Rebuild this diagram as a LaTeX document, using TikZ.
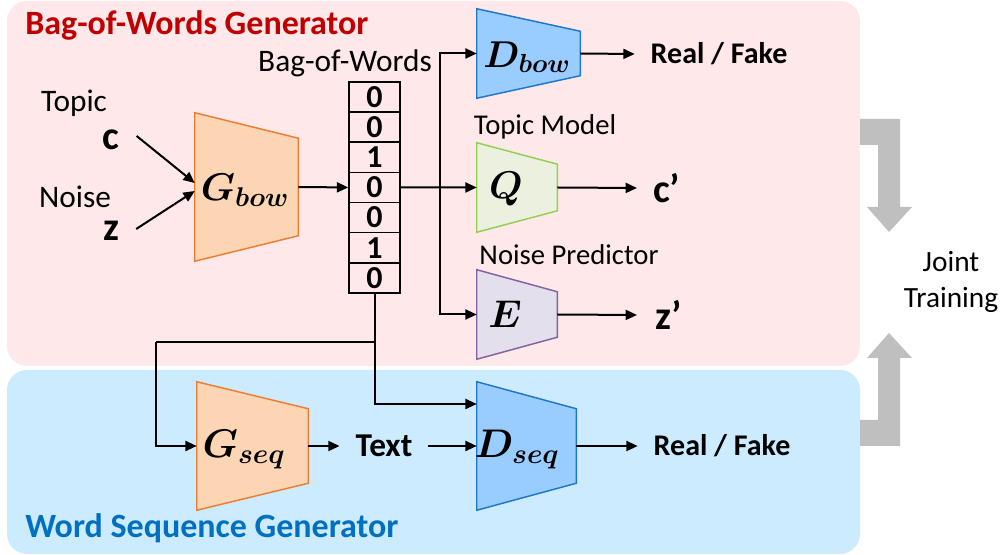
\documentclass[tikz,border=0pt]{standalone}
\usepackage{fix-cm}
\usepackage{fontspec}
\setmainfont{Carlito}
\usetikzlibrary{arrows.meta,calc}

\definecolor{pinkbg}{HTML}{FFE8E9}
\definecolor{bluebg}{HTML}{CCEBFF}
\definecolor{titlered}{HTML}{C00000}
\definecolor{titleblue}{HTML}{0070C0}
\definecolor{genfill}{HTML}{FCD5B4}
\definecolor{genline}{HTML}{ED7D31}
\definecolor{disfill}{HTML}{99CCFF}
\definecolor{disline}{HTML}{1F77C8}
\definecolor{topfill}{HTML}{EBF1DE}
\definecolor{topline}{HTML}{92D050}
\definecolor{noifill}{HTML}{E4DFEC}
\definecolor{noiline}{HTML}{8064A2}
\definecolor{jointgray}{HTML}{BFBFBF}

% trapezoid block: name, centre, width, left height, inset of right side, style
\newcommand{\trapbox}[6]{%
  \path (#2) node[minimum width=#3, minimum height=#4, inner sep=0pt] (#1) {};
  \draw[#6] (#1.north west) -- ($(#1.north east)!#5!(#1.south east)$)
    -- ($(#1.south east)!#5!(#1.north east)$) -- (#1.south west) -- cycle;
}

\tikzset{
  gen/.style={fill=genfill, draw=genline, line width=1.1pt},
  dis/.style={fill=disfill, draw=disline, line width=1.1pt},
  topicnet/.style={fill=topfill, draw=topline, line width=1.1pt},
  noisenet/.style={fill=noifill, draw=noiline, line width=1.1pt},
  mathlbl/.style={font=\fontsize{#1}{#1}\selectfont\boldmath, inner sep=0pt},
  cell/.style={draw, line width=1.1pt, minimum width=38.25pt, minimum height=22.6pt,
    inner sep=0pt, font=\fontsize{24}{26}\selectfont\bfseries},
  plain/.style={font=\fontsize{21.5}{25}\selectfont, inner sep=0pt},
  biglbl/.style={font=\fontsize{23.5}{27}\selectfont, inner sep=0pt},
  outlbl/.style={font=\fontsize{22.5}{26}\selectfont\bfseries, inner sep=0pt, outer sep=12pt},
  vecsym/.style={font=\fontsize{30}{34}\selectfont\bfseries, inner sep=0pt},
  conn/.style={line width=1.5pt, -{Triangle[length=8.5pt,width=7.5pt]}},
  wire/.style={line width=1.5pt}
}

\begin{document}
\begin{tikzpicture}[x=0.75pt,y=0.75pt,yscale=-1,xscale=1]
\useasboundingbox (0,0) rectangle (1008,555);

%Shape: panels
\fill[pinkbg, rounded corners=15pt] (7,1) rectangle (860,366);
\fill[bluebg, rounded corners=15pt] (7,370) rectangle (860,554);

% Text Node
\node[font=\fontsize{25.5}{30}\selectfont\bfseries, text=titlered, anchor=west, inner sep=0pt] (bowtitle) at (25,25) {Bag-of-Words Generator};
\node[font=\fontsize{25.5}{30}\selectfont\bfseries, text=titleblue, anchor=west, inner sep=0pt] (seqtitle) at (25,528) {Word Sequence Generator};

%Shape: joint training arrows
\fill[jointgray] (860,119) -- (900,119) -- (900,207) -- (912,207) -- (889,232) -- (867,207) -- (878,207) -- (878,145) -- (860,145) -- cycle;
\fill[jointgray] (860,446) -- (900,446) -- (900,358) -- (912,358) -- (889,333) -- (867,358) -- (878,358) -- (878,420) -- (860,420) -- cycle;
\node[font=\fontsize{22}{26}\selectfont, align=center, inner sep=0pt] (joint) at (951,282) {Joint\\[1pt]Training};

% inputs
\node[biglbl] (topiclbl) at (74,103) {Topic};
\node[biglbl] (noiselbl) at (75,197) {Noise};
\node[vecsym] (cin) at (111,140) {c};
\node[vecsym] (zin) at (111,231) {z};

%Shape: trapezoids
\trapbox{gbow}{246.5,187}{77.25pt}{111pt}{19.1pt}{gen}
\node[mathlbl=29] (gbowlbl) at (245,190) {$G_{bow}$};
\trapbox{dbow}{528.5,53.5}{77.25pt}{66.75pt}{16.9pt}{dis}
\node[mathlbl=28] (dbowlbl) at (527,57) {$D_{bow}$};
\trapbox{qnet}{517,187.5}{60pt}{66.75pt}{16.1pt}{topicnet}
\node[mathlbl=29] (qlbl) at (506,189) {$Q$};
\trapbox{enet}{517,314.5}{60pt}{66.75pt}{16.5pt}{noisenet}
\node[mathlbl=29] (elbl) at (505,314.5) {$E$};
\trapbox{gseq}{252.5,446}{83.25pt}{96pt}{20.25pt}{gen}
\node[mathlbl=30] (gseqlbl) at (244,450) {$G_{seq}$};
\trapbox{dseq}{526.5,446}{74.25pt}{96pt}{20.25pt}{dis}
\node[mathlbl=30] (dseqlbl) at (517,450) {$D_{seq}$};

% bag-of-words vector
\foreach \v [count=\i] in {0,0,1,0,0,1,0}
  \node[cell] (c\i) at (374.5,{97+(\i-1)*30.15}) {\v};
\node[biglbl] (bowlbl) at (345,63) {Bag-of-Words};
\node[plain] (topicmodel) at (545,127) {Topic Model};
\node[plain] (noisepred) at (569,255) {Noise Predictor};

% outputs
\node[outlbl] (rf1) at (719,54) {Real / Fake};
\node[vecsym, anchor=west] (cout) at (653,188) {c’};
\node[vecsym, anchor=west] (zout) at (655,315) {z’};
\node[outlbl, font=\fontsize{25}{29}\selectfont\bfseries] (text) at (384,446) {Text};
\node[outlbl] (rf2) at (722,446) {Real / Fake};

%Straight Lines
\draw[conn] ($(cin.east)+(17,-4)$) -- ($(gbow.west)+(0,-4)$);
\draw[conn] ($(zin.east)+(17,-2)$) -- ($(gbow.west)+(0,4)$);
\draw[conn] (gbow.east) -- (c4.west);
\coordinate (fork) at (440,187.5);
\draw[conn] (c4.east) -- (qnet.west);
\draw[conn] (fork) |- (dbow.west);
\draw[conn] (fork) |- (enet.west);
\draw[conn] (dbow.east) -- (rf1.west);
\draw[conn] (qnet.east) -- ($(cout.west)+(-16,0)$);
\draw[conn] (enet.east) -- ($(zout.west)+(-18,0)$);

\coordinate (split) at (374.5,342);
\coordinate (bend) at (156,342);
\draw[wire] (c7.south) -- (split) -- (bend);
\draw[conn] (bend) |- (gseq.west);
\draw[conn] (split) |- ($(dseq.west)+(0,-42)$);
\draw[conn] (gseq.east) -- (text.west);
\draw[conn] (text.east) -- (dseq.west);
\draw[conn] (dseq.east) -- (rf2.west);

\end{tikzpicture}
\end{document}
